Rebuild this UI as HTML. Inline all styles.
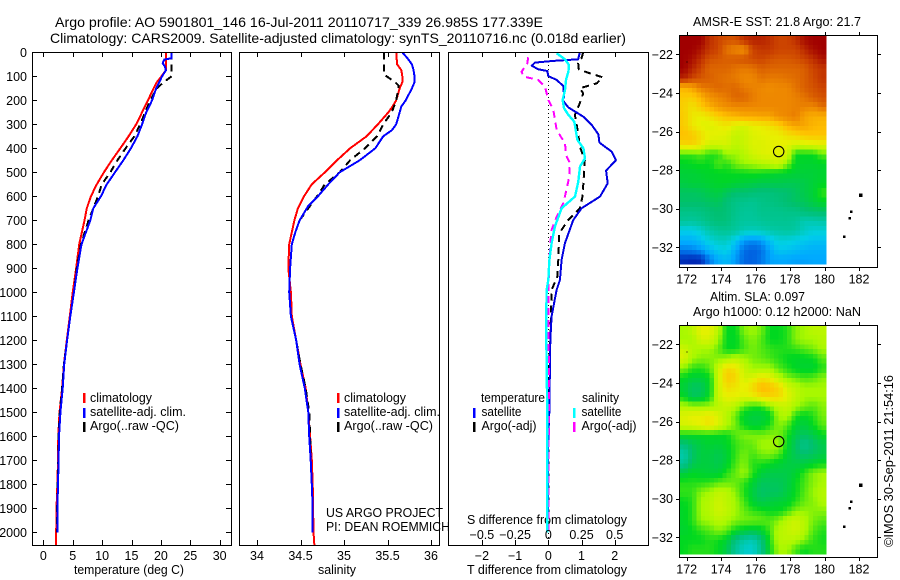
<!DOCTYPE html>
<html lang="en">
<head>
<meta charset="utf-8">
<title>Argo profile 5901801_146</title>
<style>
html,body{margin:0;padding:0;background:#fff;}
svg{display:block;}
text{font-family:"Liberation Sans",sans-serif;font-size:12.5px;fill:#000;}
</style>
</head>
<body>
<svg id="chart" xmlns="http://www.w3.org/2000/svg" width="900" height="580" viewBox="0 0 900 580">
<rect x="0" y="0" width="900" height="580" fill="#fff"/>
<text x="55" y="27" textLength="488" lengthAdjust="spacingAndGlyphs" style="font-size:14px">Argo profile: AO 5901801_146 16-Jul-2011 20110717_339 26.985S 177.339E</text>
<text x="50" y="43" textLength="576" lengthAdjust="spacingAndGlyphs" style="font-size:14px">Climatology: CARS2009. Satellite-adjusted climatology: synTS_20110716.nc (0.018d earlier)</text>
<text x="74" y="574" textLength="110" lengthAdjust="spacingAndGlyphs">temperature (deg C)</text>
<text x="318" y="574" textLength="38" lengthAdjust="spacingAndGlyphs">salinity</text>
<text x="467" y="574" textLength="160" lengthAdjust="spacingAndGlyphs">T difference from climatology</text>
<text x="467" y="524" textLength="160" lengthAdjust="spacingAndGlyphs">S difference from climatology</text>
<text x="90" y="402" textLength="62" lengthAdjust="spacingAndGlyphs">climatology</text>
<text x="90" y="416" textLength="96" lengthAdjust="spacingAndGlyphs">satellite-adj. clim.</text>
<text x="90" y="430" textLength="89" lengthAdjust="spacingAndGlyphs">Argo(..raw -QC)</text>
<text x="344" y="402" textLength="62" lengthAdjust="spacingAndGlyphs">climatology</text>
<text x="344" y="416" textLength="96" lengthAdjust="spacingAndGlyphs">satellite-adj. clim.</text>
<text x="344" y="430" textLength="89" lengthAdjust="spacingAndGlyphs">Argo(..raw -QC)</text>
<text x="326" y="517" textLength="117" lengthAdjust="spacingAndGlyphs">US ARGO PROJECT</text>
<text x="326" y="531" textLength="124" lengthAdjust="spacingAndGlyphs">PI: DEAN ROEMMICH</text>
<text x="481" y="402" textLength="64" lengthAdjust="spacingAndGlyphs">temperature</text>
<text x="582" y="402" textLength="37" lengthAdjust="spacingAndGlyphs">salinity</text>
<text x="481.500" y="416" textLength="40" lengthAdjust="spacingAndGlyphs">satellite</text>
<text x="481.500" y="430" textLength="55" lengthAdjust="spacingAndGlyphs">Argo(-adj)</text>
<text x="581.500" y="416" textLength="40" lengthAdjust="spacingAndGlyphs">satellite</text>
<text x="581.500" y="430" textLength="55" lengthAdjust="spacingAndGlyphs">Argo(-adj)</text>
<text x="693" y="26" textLength="168" lengthAdjust="spacingAndGlyphs">AMSR-E SST: 21.8 Argo: 21.7</text>
<text x="710" y="301" textLength="95" lengthAdjust="spacingAndGlyphs">Altim. SLA: 0.097</text>
<text x="693" y="316" textLength="168" lengthAdjust="spacingAndGlyphs">Argo h1000: 0.12 h2000: NaN</text>
<text transform="translate(893,547) rotate(-90)" textLength="172" lengthAdjust="spacingAndGlyphs">©IMOS 30-Sep-2011 21:54:16</text>
</svg>
<script>
// ---------- Profile data ----------
const depthTicks = [0,100,200,300,400,500,600,700,800,900,1000,1100,1200,1300,1400,1500,1600,1700,1800,1900,2000];
const tempTicks = [0,5,10,15,20,25,30];
const salTicks = [34,34.5,35,35.5,36];
const salTickLabels = ['34','34.5','35','35.5','36'];
const tDiffTicks = [-2,-1,0,1,2];
const tDiffTickLabels = ['\u22122','\u22121','0','1','2'];
const sDiffTicks = [-0.5,-0.25,0,0.25,0.5];
const sDiffTickLabels = ['\u22120.5','\u22120.25','0','0.25','0.5'];

const tempClimDepth = [0,50,75,100,125,150,200,250,300,350,400,450,500,550,600,650,700,800,900,1000,1100,1200,1300,1400,1500,1600,1700,1800,1900,2000,2055];
const tempClimValues = [20.85,20.85,20.85,20.1,19.3,18.75,17.8,16.8,15.8,14.5,13.1,11.65,10.3,9.1,8.1,7.4,7,6.1,5.6,5,4.5,4,3.5,3.2,2.75,2.55,2.5,2.4,2.25,2.2,2.2];
const tempSatDepth = [0,25,30,45,60,75,100,150,200,250,300,350,400,450,500,550,600,650,700,800,900,1000,1100,1200,1300,1400,1500,1600,1700,1800,1900,2000];
const tempSatValues = [21.8,21.8,20.6,20.3,20.7,20.85,20.2,19.2,18.5,17.5,16.8,16,14.9,13.6,12.2,10.8,9.8,8.5,8,6.5,5.8,5.2,4.6,4.05,3.55,3.3,2.9,2.67,2.6,2.5,2.4,2.4];
const tempArgoDepth = [0,100,110,125,150,200,250,300,350,400,450,500,550,600,650,700,800,900,1000,1100,1200,1300,1400,1500,1600,1700,1800,1900,2000];
const tempArgoValues = [21.8,21.8,21.3,20.45,19.3,18.2,17.3,16.5,15.5,14,12.6,11.4,9.95,9.3,8.5,7.7,6.4,5.7,5.2,4.6,4.05,3.5,3.2,2.8,2.6,2.55,2.45,2.35,2.35];

const salClimDepth = [0,50,75,100,125,150,200,225,250,300,350,400,450,500,550,600,650,700,750,800,900,1000,1100,1200,1300,1400,1500,1600,1700,1800,1900,2000,2055];
const salClimValues = [35.6,35.61,35.66,35.67,35.67,35.64,35.6,35.56,35.51,35.39,35.26,35.07,34.92,34.78,34.63,34.54,34.47,34.43,34.4,34.37,34.36,34.39,34.4,34.45,34.5,34.56,34.59,34.61,34.63,34.64,34.645,34.65,34.66];
const salSatDepth = [0,25,50,75,100,125,150,200,225,250,300,325,350,400,450,500,550,600,640,700,750,800,900,1000,1100,1200,1300,1400,1500,1600,1700,1800,1900,2000];
const salSatValues = [35.67,35.73,35.78,35.8,35.81,35.81,35.78,35.71,35.66,35.64,35.6,35.55,35.45,35.36,35.18,34.95,34.82,34.7,34.59,34.49,34.44,34.4,34.38,34.37,34.39,34.45,34.49,34.55,34.59,34.6,34.617,34.63,34.64,34.64];
const salArgoDepth = [0,50,90,100,125,140,200,250,300,350,400,450,500,550,600,650,700,750,800,900,1000,1100,1200,1300,1400,1500,1600,1700,1800,1900,2000];
const salArgoValues = [35.46,35.46,35.46,35.49,35.59,35.63,35.6,35.55,35.45,35.38,35.24,35.07,34.95,34.78,34.69,34.59,34.49,34.44,34.4,34.38,34.37,34.39,34.45,34.5,34.56,34.6,34.61,34.62,34.63,34.64,34.64];

const tDiffSatDepth = [0,29,36,43,56,71,78,99,115,140,185,199,229,268,303,342,376,414,449,493,546,601,650,699,796,865,949,990,1100,1200,1300,1400,1500,1600,1800,2000];
const tDiffSatValues = [0.95,0.9,0.15,-0.4,-0.5,-0.3,-0.03,0,0.25,0.45,0.48,0.43,0.6,1.05,1.31,1.51,1.54,1.91,2.04,1.74,1.79,1.56,1,0.75,0.5,0.4,0.35,0.25,0.1,0.06,0.05,0.04,0.03,0,-0.01,-0.02];
const tDiffArgoDepth = [0,25,46,71,85,104,129,150,171,212,261,337,393,449,518,601,650,699,754,865,935,990,1100,1200,1300,1400,1500,2000];
const tDiffArgoValues = [1.05,1,0.9,0.92,1.2,1.64,1.46,0.95,1.05,0.95,0.8,0.9,0.95,1.1,1.07,1.03,0.95,0.6,0.33,0.3,0.27,0.1,0.08,0.05,0.03,0.01,0,0];
const sDiffSatDepth = [4,29,53,81,115,157,199,233,261,289,365,400,442,476,539,601,650,726,796,865,949,990,1100,1200,1300,1500,2000];
const sDiffSatValues = [0.063,0.126,0.156,0.151,0.133,0.126,0.108,0.118,0.151,0.196,0.219,0.264,0.276,0.239,0.226,0.201,0.1,0.05,0.025,0.008,0,-0.013,-0.015,-0.015,-0.012,-0.008,-0.008];
const sDiffArgoDepth = [21,46,81,101,115,143,199,240,324,379,428,462,518,581,629,685,740,810,990,1400,2000];
const sDiffArgoValues = [-0.151,-0.158,-0.201,-0.188,-0.075,-0.025,0,0.038,0.063,0.126,0.133,0.163,0.158,0.133,0.113,0.063,0.025,0.013,0,0.005,0];

// ---------- Map data (colour levels 0 = coldest/lowest ... 12 = warmest/highest) ----------
const lonTicks = [172,174,176,178,180,182];
const latTicks = [-22,-24,-26,-28,-30,-32];
const latTickLabels = ['\u221222','\u221224','\u221226','\u221228','\u221230','\u221232'];
const argoLon = 177.339;
const argoLat = -26.985;
const islandLons = [172.03,182.1,181.55,181.45,181.13];
const islandLats = [-22.4,-29.3,-30.15,-30.5,-31.45];

const sstLevels = [
[12,12,12,11.3,11,10.8,10.8,11.3,11.5,11.5,11.3,11,11,11.3,11.8,12,12],
[12,12,11.7,11.2,11,10.3,10,9.8,11,11.2,11.2,11,11,11,11.4,11.8,12],
[12,11.8,11.3,10.8,10.7,10.6,10.7,10.8,10.9,11,10.8,10.7,10.7,10.8,11,11.3,11.7],
[12,11.5,11,10.5,10.5,10.5,10.3,10.2,10.3,10.6,10.5,10.5,10.5,10.5,10.6,11,11.2],
[11.5,11,10.7,10.6,10.4,10.3,10.2,10,10,10.3,10.2,10.2,10.3,10.4,10.6,10.9,11.2],
[9.2,9.5,10.2,10.3,10.5,10.4,10.5,10.2,10.1,10,9.9,10,10,10.3,10.6,10.8,11],
[8.8,8.7,9.2,9.8,10,10.2,10.5,10.5,10.2,10,10,10,10,10.1,10.3,10.6,10.8],
[8.7,8.3,8.8,9.3,9.7,9.9,10,10,10,10,10,10,10,10.1,10.1,10,10.4],
[8.8,8.2,8,8.3,8.7,9,9.2,9.4,9.4,9.5,9.5,9.9,10,10.2,9.5,9.3,9.3],
[8.8,8.2,7.9,7.8,8,8.2,7.8,7.7,8,8.1,8.3,8.6,9.2,9.5,9.5,9.2,9.1],
[9,8.9,8.4,8,7.9,7.8,7.4,7.5,7.8,7.9,8,8,8.3,8.5,8.8,8.9,8.9],
[8.5,8.6,8.2,7.6,7.6,7.7,7.3,7.5,7.8,7.8,7.9,8,7.9,7.6,7.7,7.8,7.9],
[6.3,6.3,6.5,6.2,6.2,6.9,6.9,7.2,7.6,7.8,7.9,7.9,7.7,6,6,6,6.5],
[5.9,6,6.1,6,6.5,6.2,6.7,6.9,7,7.2,7.3,7.5,6.8,5.9,5.8,5.8,5.9],
[5.7,5.7,5.8,5.9,5.9,6,6,6,6.1,6,5.9,5.8,5.8,5.7,5.7,5.7,5.8],
[5.6,5.7,5.7,5.8,5.9,5.9,5.8,5.7,5.6,5.5,5.5,5.5,5.4,5.4,5.5,5.7,5.9],
[5.2,5.2,5.3,5.5,5.6,5.3,5,5,4.9,4.8,4.8,4.9,5,5.2,5.5,5.7,6.3],
[5.1,5.1,5.1,5.2,5.3,4.9,4.6,4.5,4.4,4.6,4.7,4.8,5,5.2,5.3,5.6,5.9],
[4.6,4.6,4.7,4.9,5,4.9,4.5,4.3,4.3,4.5,4.5,4.5,4.6,4.6,4.9,5,5.1],
[4.3,4.2,4.4,4.7,4.9,4.8,4.4,4.2,4.2,4.3,4.4,4.4,4.4,4.3,3.8,3.9,4],
[3,3,3.4,4,4.3,4.4,4.2,3.8,3.7,3.8,4,4.1,4.2,4.1,3.6,3.3,3.3],
[2.2,2.2,2.6,3.2,3.6,3.6,2.8,1.8,1.6,1.8,2.6,3.2,3.2,3,2.8,2.6,2.6],
[1.4,1.5,1.8,2.4,2.9,3.1,2.1,1.2,1,1.2,2,2.8,2.7,2.5,2.3,2.2,2.2],
[0.3,0.2,0.3,1.4,2.1,2.4,1.8,1.1,1,1.3,1.9,2,2,1.9,1.9,2,2]
];
const slaLevels = [
[7,7.3,8,8,7.3,6,6,6.8,7,6.7,6,6,6.2,6.8,7,7.3,7.3],
[7,7,7.7,7.7,7,6,5.9,6.5,6.8,6.5,6,6,6.2,6.8,7,7,7.2],
[7.6,7.2,7,7,6.6,6,6,6.4,6.7,6.5,6.3,6.2,6.2,6.3,6.5,6.7,7],
[7.8,7,6.8,6.8,6.8,7,7.3,7,6.7,6.6,6.4,6.2,6,5.9,5.9,6,6.5],
[6.8,6.3,6.2,6.5,7.5,8.5,8.3,7.5,7,7,7,6.5,6.2,5.9,5.8,5.8,6.2],
[6,5.7,5.7,6,7.5,8.8,8.6,7.6,7.8,8.2,8,7.3,6.8,6.6,6.4,6.5,6.8],
[5.7,5.2,5.2,5.9,7.5,8.4,8.2,8,8.5,9.2,9,8.6,7.7,7.3,7,7,7],
[6,5.3,5.4,6,7.5,8,8,7.8,8,8.4,8.6,8.5,7.9,7.4,7,7,7],
[7.2,7,7,7,7.2,7.5,7.2,6.5,6.2,6.2,6.8,7.3,7.5,7,6.7,6.5,6.8],
[7.8,8,8,8.2,7.8,7.2,6.6,5.8,5.6,5.6,5.9,7,7.2,6.2,5.9,6.2,6.7],
[7.7,7.8,8,8.3,7.8,7.2,6.7,6,5.7,5.8,6.2,6.8,6.5,5.8,5.6,6,6.5],
[6,6,6,6,6,6,6.5,6.8,6.8,6.7,6.8,6.7,6.2,5.5,5.2,5.5,6],
[4.8,5.3,5.6,5.8,5.7,5.9,6.3,6.5,6.6,7,7,7,6,5.2,4.5,5,5.4],
[3.9,5.1,5.6,5.6,5.4,5.7,6.3,6.7,6.4,6.7,6.8,6.5,5.8,5.3,5,5.2,5.5],
[4.3,5.3,5.6,5.6,5.4,5.8,6.4,6.8,6.2,6.2,6,5.8,5.6,5.5,5.6,5.8,6],
[5.6,5.9,5.8,5.7,5.7,6.2,6.6,7,6.3,5.7,5.5,5.5,5.5,5.8,6.3,6.8,7],
[6.2,6.2,6.2,6.3,6.5,6.6,6.6,6.3,5.8,5.3,5.3,5.3,5.5,6,6.4,6.8,7],
[6.3,6.3,6.8,7,7.4,7.3,6.8,6.2,5.6,5.1,5.2,5.2,5.6,6,6.5,6.9,7.2],
[6,6.2,7,7.2,7.6,7.3,7,6.4,5.8,5.4,5.6,5.7,5.8,6.2,6.6,6.8,7.1],
[5.9,6.2,7,7.2,7.6,7.4,7,6.6,6.3,6.2,6,6,6.3,6.8,6.9,6.8,6.8],
[5.9,6.2,6.9,7,7.3,7.1,6.8,6.7,6.7,6.6,6.5,6.8,7.3,7.6,7.2,6.7,6.5],
[5.8,6,6.3,6.5,6.8,6.6,6,5.8,5.6,5.8,6.4,7.2,7.4,7.6,7.2,6.5,6.2],
[6,6,6,6.2,6.1,5.8,4.8,4.1,3.8,4.8,6.2,7.2,7.3,7.2,6.8,6.3,6.1],
[6,6.2,6.2,6.2,6,5.5,4.3,3.5,3.4,4.5,6,7,7,6.4,6,6.2,6.2]
];

// ---------- Helpers ----------
const svg = document.getElementById('chart');
const NS = 'http://www.w3.org/2000/svg';
function make(tag, attrs, parent) {
  const el = document.createElementNS(NS, tag);
  for (const k in attrs) el.setAttribute(k, attrs[k]);
  (parent || svg).appendChild(el);
  return el;
}
function tickLine(parent, x1, y1, x2, y2) {
  return make('line', {x1:x1, y1:y1, x2:x2, y2:y2, stroke:'#000', 'stroke-width':1, 'shape-rendering':'crispEdges'}, parent);
}
const depthY = d => 52.3 + d * 0.24;
const tempX = t => 43.3 + t * 5.88;
const salX = s => 257 + (s - 34) * 87;
const tDiffX = t => 548.3 + t * 33.2;
const sDiffX = s => 548.3 + s * 132.8;

function pointsOf(xFn, depths, values) {
  return depths.map((d, i) => xFn(values[i]).toFixed(1) + ',' + depthY(d).toFixed(1)).join(' ');
}
function profileLine(parent, xFn, depths, values, color, dashed, width) {
  const attrs = {points:pointsOf(xFn, depths, values), fill:'none', stroke:color, 'stroke-width':width || 2, 'stroke-linejoin':'round', 'shape-rendering':'crispEdges'};
  if (dashed) attrs['stroke-dasharray'] = '7 5';
  return make('polyline', attrs, parent);
}
function panelBox(parent, x1, x2, y1, y2) {
  return make('rect', {x:x1, y:y1, width:x2 - x1, height:y2 - y1, fill:'none', stroke:'#000', 'stroke-width':1, 'shape-rendering':'crispEdges'}, parent);
}
function label(parent, x, y, str, anchor) {
  const el = make('text', {x:x, y:y, 'text-anchor':anchor || 'middle'}, parent);
  el.textContent = str;
  return el;
}

// ---------- Panel 1: temperature ----------
const p1 = make('g', {});


const p1Red = profileLine(p1, tempX, tempClimDepth, tempClimValues, '#ff0000');


const p1Black = profileLine(p1, tempX, tempArgoDepth, tempArgoValues, '#000000', true);


const p1Blue = profileLine(p1, tempX, tempSatDepth, tempSatValues, '#0000ff');


const p1Box = panelBox(p1, 32.5, 231.5, 52.5, 545.5);


depthTicks.forEach(d => {
  const y = Math.round(depthY(d)) + 0.5;
  if (d > 0) {
    const tl = tickLine(p1, 33, y, 37, y);
    
    
    const tr = tickLine(p1, 226, y, 231, y);
    
    
  }
  const t = label(p1, 27, depthY(d) + 4.5, String(d), 'end');
  
  
});
tempTicks.forEach(v => {
  const x = Math.round(tempX(v)) + 0.5;
  const a = tickLine(p1, x, 53, x, 57);
  
  
  const b = tickLine(p1, x, 540, x, 545);
  
  
  const t = label(p1, tempX(v), 560, String(v));
  
  
});

// ---------- Panel 2: salinity ----------
const p2 = make('g', {});


const p2Red = profileLine(p2, salX, salClimDepth, salClimValues, '#ff0000');


const p2Black = profileLine(p2, salX, salArgoDepth, salArgoValues, '#000000', true);


const p2Blue = profileLine(p2, salX, salSatDepth, salSatValues, '#0000ff');


const p2Box = panelBox(p2, 239.5, 439.5, 52.5, 545.5);


salTicks.forEach((v, i) => {
  const x = Math.round(salX(v)) + 0.5;
  const a = tickLine(p2, x, 53, x, 57);
  
  
  const b = tickLine(p2, x, 540, x, 545);
  
  
  const t = label(p2, salX(v), 560, salTickLabels[i]);
  
  
});

// ---------- Panel 3: differences ----------
const p3 = make('g', {});


const zero = make('line', {x1:548.5, y1:53, x2:548.5, y2:545, stroke:'#000', 'stroke-width':1, 'stroke-dasharray':'1 3', 'shape-rendering':'crispEdges'}, p3);


const p3Black = profileLine(p3, tDiffX, tDiffArgoDepth, tDiffArgoValues, '#000000', true);


const p3Blue = profileLine(p3, tDiffX, tDiffSatDepth, tDiffSatValues, '#0000e0');


const p3Mag = profileLine(p3, sDiffX, sDiffArgoDepth, sDiffArgoValues, '#ff00ff', true);


const p3Cyan = profileLine(p3, sDiffX, sDiffSatDepth, sDiffSatValues, '#00ffff', false, 2.4);


const p3Box = panelBox(p3, 448.5, 648.5, 52.5, 545.5);


tDiffTicks.forEach((v, i) => {
  const x = Math.round(tDiffX(v)) + 0.5;
  const a = tickLine(p3, x, 53, x, 57);
  
  
  const b = tickLine(p3, x, 540, x, 545);
  
  
  const t = label(p3, tDiffX(v), 560, tDiffTickLabels[i]);
  
  
});
sDiffTicks.forEach((v, i) => {
  const t = label(p3, sDiffX(v), 539, sDiffTickLabels[i]);
  
  
});

// ---------- Legend swatches ----------
const legendSwatchColors = ['#ff0000','#0000ff','#000000','#ff0000','#0000ff','#000000','#0000ff','#000000','#00ffff','#ff00ff'];
const legendSwatchColumns = [84,84,84,338,338,338,474,474,574,574];
const legendSwatchRows = [393,408,422,393,408,422,408,422,408,422];
legendSwatchColors.forEach((c, i) => {
  const s = make('rect', {x:legendSwatchColumns[i] - 1, y:legendSwatchRows[i], width:2.5, height:10, fill:c, 'shape-rendering':'crispEdges'});
  
  
});

// ---------- Maps ----------
const rampStops = ['#0018a8','#0060e0','#00a8ff','#00d0e8','#00c8a8','#00c070','#00d820','#a8f800','#e8f000','#ffc000','#ee8800','#cc4400','#a00000'];
function hexToRgb(h) { return [1,3,5].map(i => parseInt(h.substr(i, 2), 16)); }
function levelColor(v) {
  const t = Math.max(0, Math.min(12, v));
  const i = Math.min(11, Math.floor(t));
  const f = t - i;
  const a = hexToRgb(rampStops[i]), b = hexToRgb(rampStops[i + 1]);
  return 'rgb(' + a.map((c, k) => Math.round(c + (b[k] - c) * f)).join(',') + ')';
}
// The reference image shows finer pixels than the levels read from it, so each
// level is displayed across two sub-pixels per axis, blended with its neighbours.
const SUB = 2;
function sampleLevel(levels, rf, cf) {
  const nr = levels.length, nc = levels[0].length;
  const r = Math.max(0, Math.min(nr - 1, rf)), c = Math.max(0, Math.min(nc - 1, cf));
  const r0 = Math.floor(r), c0 = Math.floor(c);
  const r1 = Math.min(nr - 1, r0 + 1), c1 = Math.min(nc - 1, c0 + 1);
  const fr = r - r0, fc = c - c0;
  return (levels[r0][c0] * (1 - fc) + levels[r0][c1] * fc) * (1 - fr) + (levels[r1][c0] * (1 - fc) + levels[r1][c1] * fc) * fr;
}
function drawMap(levels, yOffset, prefix) {
  const lonX = lon => 686.7 + (lon - 172) * 17.23;
  const latY = lat => yOffset + 54.3 + (-22 - lat) * 19.3;
  const g = make('g', {});
  
  
  const west = lonX(171.57), east = lonX(180.08), north = latY(-21.02), south = latY(-32.87);
  const nRows = levels.length * SUB, nCols = levels[0].length * SUB;
  const cw = (east - west) / nCols;
  const ch = (south - north) / nRows;
  for (let r = 0; r < nRows; r++) {
    for (let c = 0; c < nCols; c++) {
      const v = sampleLevel(levels, (r + 0.5) / SUB - 0.5, (c + 0.5) / SUB - 0.5);
      const cell = make('rect', {x:west + c * cw, y:north + r * ch, width:cw + 0.5, height:ch + 0.5, fill:levelColor(v), 'shape-rendering':'crispEdges'}, g);
      
      
    }
  }
  const frame = panelBox(g, 679.5, 877.5, yOffset + 35.5, yOffset + 267.5);
  
  
  lonTicks.forEach(v => {
    const x = Math.round(lonX(v)) + 0.5;
    const a = tickLine(g, x, yOffset + 32, x, yOffset + 35);
    
    
    const b = tickLine(g, x, yOffset + 268, x, yOffset + 271);
    
    
    const t = label(g, lonX(v), yOffset + 283.5, String(v));
    
    
  });
  latTicks.forEach((v, i) => {
    const y = Math.round(latY(v)) + 0.5;
    const a = tickLine(g, 676, y, 679, y);
    
    
    const b = tickLine(g, 878, y, 881, y);
    
    
    const t = label(g, 673, latY(v) + 4.5, latTickLabels[i], 'end');
    
    
  });
  islandLons.forEach((lon, i) => {
    const side = i === 0 ? 1 : i === 1 ? 3.5 : 2.5;
    const isl = make('rect', {x:lonX(lon) - side / 2, y:latY(islandLats[i]) - side / 2, width:side, height:side, fill:'#000', 'shape-rendering':'crispEdges'}, g);
    
    
  });
  const marker = make('circle', {cx:lonX(argoLon), cy:latY(argoLat) + 1, r:5.2, fill:'none', stroke:'#000', 'stroke-width':1.1}, g);
  
  
}
drawMap(sstLevels, 0, 'sst');
drawMap(slaLevels, 290, 'sla');
</script>
</body>
</html>
